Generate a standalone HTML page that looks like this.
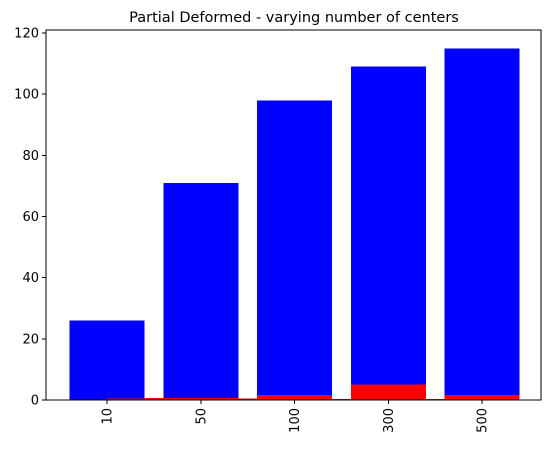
<!DOCTYPE html>
<html><head><meta charset="utf-8"><style>
body{margin:0;background:#fff;width:552px;height:446px;overflow:hidden}
text{font-family:"DejaVu Sans","Liberation Sans",sans-serif;font-size:13px;fill:#000}
</style></head><body>
<svg id="chart" width="552" height="446" shape-rendering="crispEdges">
<text x="294" y="22" text-anchor="middle" style="font-size:14.5px">Partial Deformed - varying number of centers</text>
<g id="bars"></g><g id="axes"></g>
</svg>
<script>
const categories=["10","50","100","300","500"];
const blueValues=[26,71,98,109,115];
const redValues=[0.5,0.7,1.7,5,1.7];
const gapValues=[0.6,0.5,0.4,0.4];
const yTicks=[0,20,40,60,80,100,120];
const L=46,R=541,T=30,B=400;
const y=v=>B-v*(B-33)/120;
const xc=i=>107+i*93.75;
const ns="http://www.w3.org/2000/svg";
const bars=document.getElementById('bars'),axes=document.getElementById('axes');
function mk(tag,at,p){const e=document.createElementNS(ns,tag);for(const k in at)e.setAttribute(k,at[k]);p.appendChild(e);return e;}
blueValues.forEach((v,i)=>{
 const r=mk('rect',{x:xc(i)-37.5,y:y(v),width:75,height:B-y(v),fill:'#0000ff'},bars);
 
 
});
redValues.forEach((v,i)=>{
 const x0=i==0?xc(0):xc(i)-37.5;
 const r=mk('rect',{x:x0,y:y(v),width:xc(i)+37.5-x0,height:B-y(v),fill:'#ff0000'},bars);
 
 
});
gapValues.forEach((v,i)=>{
 const r=mk('rect',{x:xc(i)+37.5,y:y(v),width:18.75,height:B-y(v),fill:'#ff0000'},bars);
 
 
});
const fr=mk('rect',{x:L,y:T,width:R-L,height:B-T,fill:'none',stroke:'#000','stroke-width':1},axes);


yTicks.forEach(t=>{
 mk('line',{x1:L-4,x2:L,y1:y(t),y2:y(t),stroke:'#000'},axes);
 const tx=mk('text',{x:L-7,y:y(t)+4.5,'text-anchor':'end'},axes);tx.textContent=t;
 
 
});
categories.forEach((c,i)=>{
 mk('line',{x1:xc(i),x2:xc(i),y1:B,y2:B+4,stroke:'#000'},axes);
 const tx=mk('text',{x:0,y:0,'text-anchor':'end',transform:`translate(${xc(i)+4.5},${B+8}) rotate(-90)`},axes);tx.textContent=c;
 
 
});
</script>
</body></html>
